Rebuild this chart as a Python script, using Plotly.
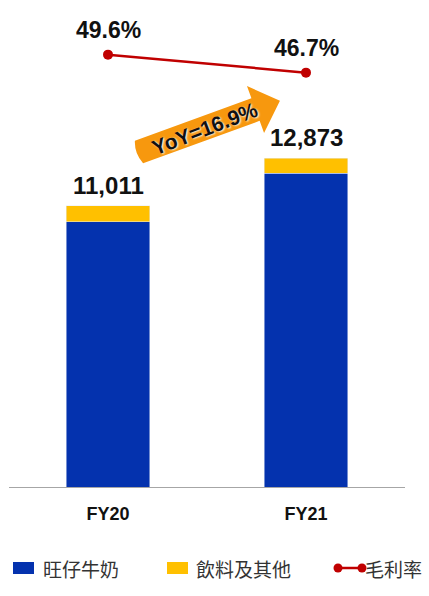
import math
import plotly.graph_objects as go

# ---------------- data ----------------
categories = ["FY20", "FY21"]
milk = [10384, 12275]          # 旺仔牛奶
beverage = [627, 598]          # 飲料及其他
totals = [11011, 12873]
gross_margin = [49.6, 46.7]    # 毛利率 (%)
yoy_label = "YoY=16.9%"
legend_names = ["旺仔牛奶", "飲料及其他", "毛利率"]

# ---------------- styles ----------------
BLUE = "#0432AE"
YELLOW = "#FFC000"
RED = "#C00000"
ORANGE = "#F7980E"
W, H = 429, 596
L, R, T, B = 9, 24, 10, 109
PW, PH = W - L - R, H - T - B
LATIN = "Liberation Sans, Arial, sans-serif"
CJK = "Noto Sans CJK TC, Noto Sans CJK SC, sans-serif"


def px2paper(x, y):
    return (x - L) / PW, (H - B - y) / PH


fig = go.Figure()
fig.add_trace(go.Bar(x=categories, y=milk, name=legend_names[0], marker_color=BLUE,
                     width=0.42, showlegend=False, hoverinfo="skip"))
fig.add_trace(go.Bar(x=categories, y=beverage, name=legend_names[1], marker_color=YELLOW,
                     width=0.42, showlegend=False, hoverinfo="skip"))
fig.add_trace(go.Scatter(x=categories, y=gross_margin, name=legend_names[2], yaxis="y2",
                         mode="lines+markers", line=dict(color=RED, width=2.5),
                         marker=dict(color=RED, size=10), showlegend=False, hoverinfo="skip"))

annotations = []
for c, t in zip(categories, totals):
    annotations.append(dict(x=c, y=t, xref="x", yref="y", text=f"<b>{t:,}</b>",
                            showarrow=False, yanchor="bottom", yshift=5,
                            font=dict(family=LATIN, size=24, color="#111")))
for c, m in zip(categories, gross_margin):
    annotations.append(dict(x=c, y=m, xref="x", yref="y2", text=f"<b>{m:.1f}%</b>",
                            showarrow=False, yanchor="middle", yshift=25,
                            font=dict(family=LATIN, size=23, color="#111")))

# ---------------- YoY arrow (decoration) ----------------
theta = math.radians(20)
ux, uy = math.cos(theta), -math.sin(theta)
nx, ny = -uy, ux
tx, ty = 139, 152
Ltot, hl, bw, hw = 150, 26, 12, 25


def pt(s, n):
    return px2paper(tx + ux * s + nx * n, ty + uy * s + ny * n)


pts = [pt(0, -bw), pt(Ltot - hl, -bw), pt(Ltot - hl, -hw), pt(Ltot, 0),
       pt(Ltot - hl, hw), pt(Ltot - hl, bw), pt(0, bw)]
ctrl = pt(-5, 0)
path = "M " + " L ".join(f"{x:.4f},{y:.4f}" for x, y in pts)
path += f" Q {ctrl[0]:.4f},{ctrl[1]:.4f} {pts[0][0]:.4f},{pts[0][1]:.4f} Z"
shapes = [dict(type="path", path=path, xref="paper", yref="paper",
               fillcolor=ORANGE, line=dict(width=0), layer="above")]
cx, cy = pt(70, 0)
annotations.append(dict(x=cx, y=cy, xref="paper", yref="paper", text=f"<b>{yoy_label}</b>",
                        showarrow=False, textangle=-21, xanchor="center", yanchor="middle",
                        font=dict(family=LATIN, size=21, color="#111",
                                  shadow="1px 1px 2px #ffffff")))

# ---------------- manual legend ----------------
ly = 568
x0, y0 = px2paper(13, 562)
x1, y1 = px2paper(34, 574)
shapes.append(dict(type="rect", xref="paper", yref="paper", x0=x0, x1=x1, y0=y0, y1=y1,
                   fillcolor=BLUE, line=dict(width=0)))
x0, y0 = px2paper(167, 562)
x1, y1 = px2paper(188, 574)
shapes.append(dict(type="rect", xref="paper", yref="paper", x0=x0, x1=x1, y0=y0, y1=y1,
                   fillcolor=YELLOW, line=dict(width=0)))
x0, yl = px2paper(338, 568)
x1, _ = px2paper(362, 568)
shapes.append(dict(type="line", xref="paper", yref="paper", x0=x0, x1=x1, y0=yl, y1=yl,
                   line=dict(color=RED, width=2.5)))
for cxp in (338, 362):
    a0, b0 = px2paper(cxp - 4.5, 563.5)
    a1, b1 = px2paper(cxp + 4.5, 572.5)
    shapes.append(dict(type="circle", xref="paper", yref="paper", x0=a0, x1=a1, y0=b0, y1=b1,
                       fillcolor=RED, line=dict(width=0)))
for name, sx in zip(legend_names, (41, 194, 363)):
    ax, ay = px2paper(sx, ly)
    annotations.append(dict(x=ax, y=ay, xref="paper", yref="paper", text=name,
                            showarrow=False, xanchor="left", yanchor="middle",
                            font=dict(family=CJK, size=19, color="#333")))

fig.update_layout(
    width=W, height=H, margin=dict(l=L, r=R, t=T, b=B),
    barmode="stack", bargap=0.58,
    plot_bgcolor="white", paper_bgcolor="white",
    xaxis=dict(showline=True, linecolor="#A6A6A6", linewidth=1, ticks="",
               tickfont=dict(family=LATIN, size=18, color="#111", weight="bold"),
               ticklabelstandoff=10, range=[-0.5, 1.5]),
    yaxis=dict(range=[0, 18670], visible=False, showgrid=False, zeroline=False),
    yaxis2=dict(range=[-20.1, 56.8], overlaying="y", visible=False, showgrid=False,
                zeroline=False),
    shapes=shapes, annotations=annotations, showlegend=False,
)

fig.write_html("out.html", config={"displayModeBar": False},
               post_script="document.body.style.margin='0';document.body.style.overflow='hidden';")
